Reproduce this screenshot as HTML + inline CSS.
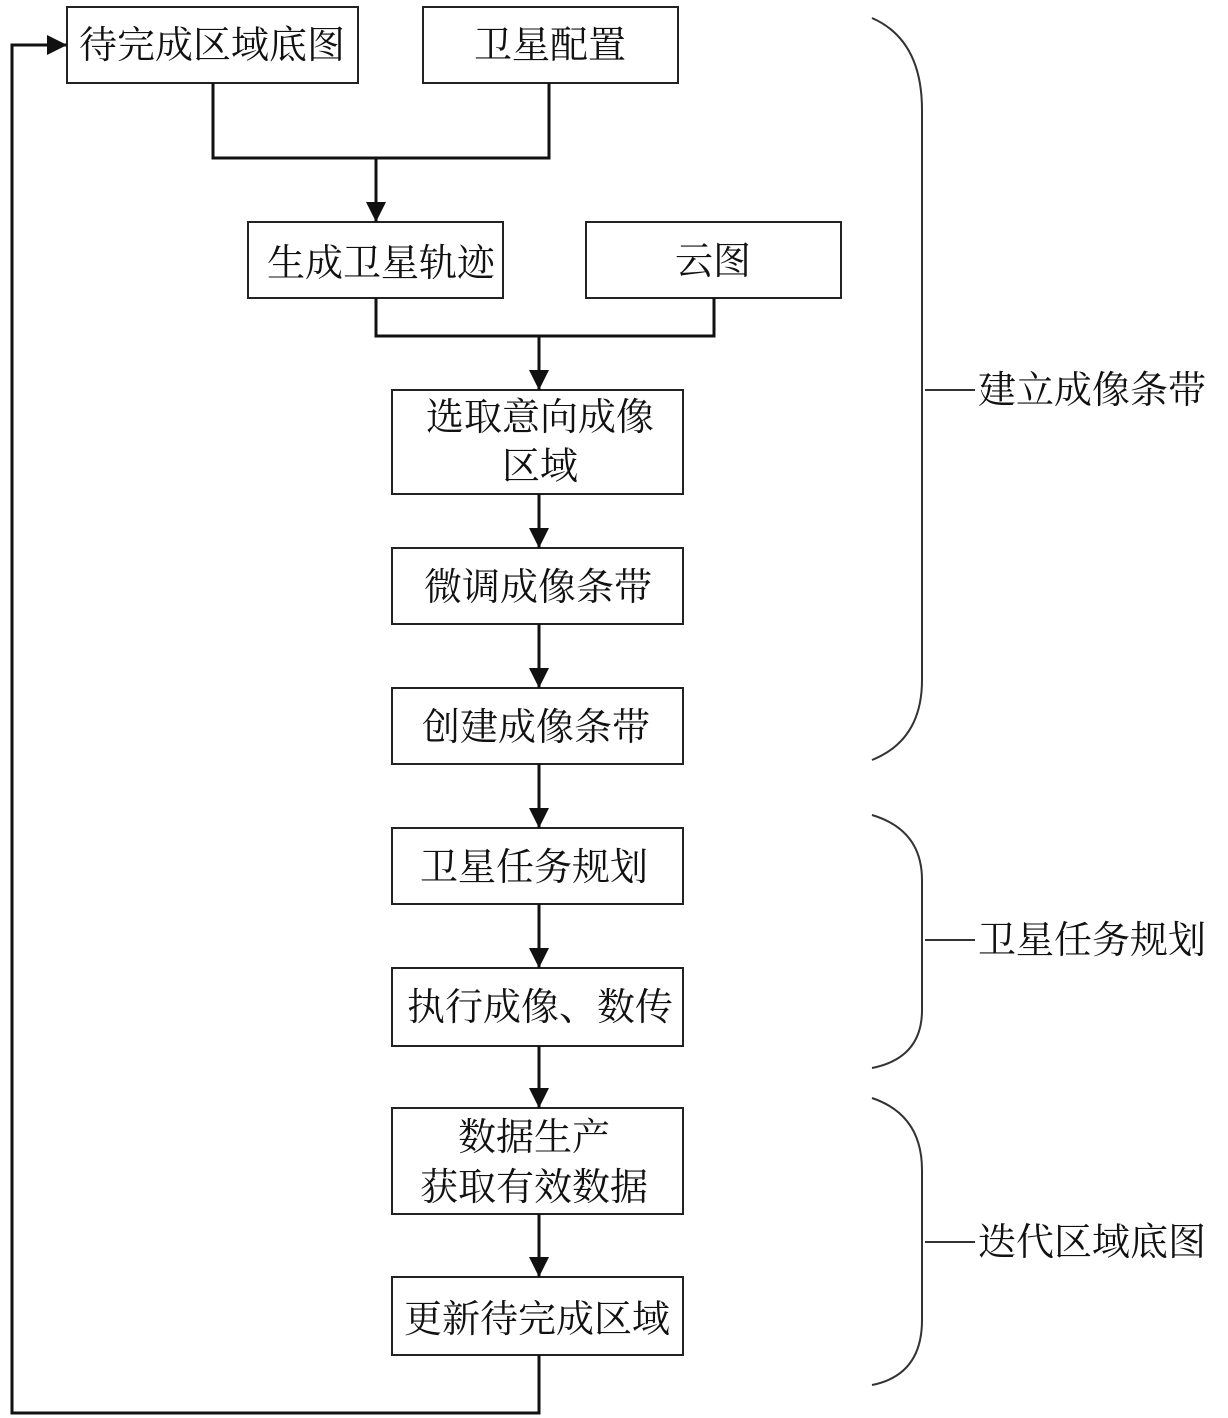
<!DOCTYPE html>
<html><head><meta charset="utf-8"><style>
html,body{margin:0;padding:0;background:#fff}
svg{display:block}
text{font-family:"Liberation Serif","Noto Serif CJK SC",serif;font-size:38px;fill:#111}
</style></head><body>
<svg width="1228" height="1418" viewBox="0 0 1228 1418" xmlns="http://www.w3.org/2000/svg">
<defs>
<marker id="b" markerWidth="20" markerHeight="20" refX="20" refY="10" orient="auto" markerUnits="userSpaceOnUse" viewBox="0 0 20 20"><path d="M0,0 L20,10 L0,20z" fill="#111"/></marker></defs>
<g fill="none" stroke="#222" stroke-width="2">
<rect x="67" y="7" width="291" height="76"/>
<rect x="423" y="7" width="255" height="76"/>
<rect x="248" y="222" width="255" height="76"/>
<rect x="586" y="222" width="255" height="76"/>
<rect x="392" y="390" width="291" height="104"/>
<rect x="392" y="548" width="291" height="76"/>
<rect x="392" y="688" width="291" height="76"/>
<rect x="392" y="828" width="291" height="76"/>
<rect x="392" y="968" width="291" height="78"/>
<rect x="392" y="1108" width="291" height="106"/>
<rect x="392" y="1277" width="291" height="78"/>
</g>
<g fill="none" stroke="#111" stroke-width="3">
<path d="M213,83 V158 H549 V83"/>
<path d="M376,158 V222" marker-end="url(#b)"/>
<path d="M376,298 V336 H714 V298"/>
<path d="M539,336 V390" marker-end="url(#b)"/>
<path d="M539,494 V548" marker-end="url(#b)"/>
<path d="M539,624 V688" marker-end="url(#b)"/>
<path d="M539,764 V828" marker-end="url(#b)"/>
<path d="M539,904 V968" marker-end="url(#b)"/>
<path d="M539,1046 V1108" marker-end="url(#b)"/>
<path d="M539,1214 V1277" marker-end="url(#b)"/>
<path d="M539,1355 V1413 H12 V45 H67" marker-end="url(#b)"/>
</g>
<g fill="none" stroke="#333" stroke-width="2">
<path d="M872,18 Q922,40 922,110 V680 Q922,740 872,760"/>
<path d="M925,390 H975"/>
<path d="M872,815 Q922,830 922,880 V1010 Q922,1058 872,1068"/>
<path d="M925,940 H975"/>
<path d="M872,1098 Q922,1115 922,1170 V1320 Q922,1375 872,1385"/>
<path d="M925,1242 H975"/>
</g>
<g text-anchor="middle">
<text x="212" y="58">待完成区域底图</text>
<text x="550" y="58">卫星配置</text>
<text x="381" y="276">生成卫星轨迹</text>
<text x="713" y="274">云图</text>
<text x="540" y="430">选取意向成像</text>
<text x="540" y="479">区域</text>
<text x="538" y="600">微调成像条带</text>
<text x="536" y="740">创建成像条带</text>
<text x="534" y="880">卫星任务规划</text>
<text x="540" y="1020">执行成像、数传</text>
<text x="534" y="1150">数据生产</text>
<text x="534" y="1200">获取有效数据</text>
<text x="537" y="1332">更新待完成区域</text>
</g>
<text x="978" y="403">建立成像条带</text>
<text x="978" y="953">卫星任务规划</text>
<text x="978" y="1255">迭代区域底图</text>
</svg>
</body></html>
